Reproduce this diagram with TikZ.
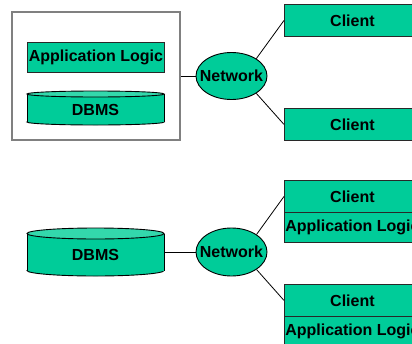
\documentclass[tikz,border=0pt]{standalone}
\usepackage{fontspec}
\setmainfont{Liberation Sans}
\usetikzlibrary{shapes.geometric}
\definecolor{tealfill}{RGB}{0,204,153}
\definecolor{tealtop}{RGB}{51,216,172}
\definecolor{framegray}{RGB}{128,128,128}
\definecolor{edgegray}{RGB}{40,40,40}
\tikzset{
  lbl/.style={font=\fontsize{16}{18}\selectfont\bfseries, text=black},
  tealbox/.style={lbl, draw=edgegray, line width=0.9pt, fill=tealfill,
    minimum width=136pt, minimum height=32pt, inner sep=0pt, anchor=north west},
  netnode/.style={ellipse, draw=black, line width=0.9pt, fill=tealfill,
    minimum width=71pt, minimum height=47pt, inner sep=0pt},
  wire/.style={draw=black, line width=0.8pt},
  dbbody/.style={lbl, inner sep=0pt},
}
% Cylinder: #1 left x, #2 right x, #3 top centre y, #4 bottom centre y, #5 y radius
\newcommand{\dbcylinder}[5]{%
  \pgfmathsetmacro{\cx}{(#1+#2)/2}%
  \pgfmathsetmacro{\rx}{(#2-#1)/2}%
  \fill[tealfill, draw=black, line width=0.9pt] (\cx,#4) ellipse [x radius=\rx, y radius=#5];
  \fill[tealfill] (#1,#3) rectangle (#2,#4);
  \draw[black, line width=0.9pt] (#1,#3) -- (#1,#4) (#2,#3) -- (#2,#4);
  \fill[tealtop, draw=black, line width=0.9pt] (\cx,#3) ellipse [x radius=\rx, y radius=#5];
}
\begin{document}
\begin{tikzpicture}[x=1pt, y=-1pt]
\useasboundingbox (0,0) rectangle (412,343);
\begin{scope}
\clip (0,0) rectangle (412,343);

% ---------- upper configuration: server holds logic and DBMS ----------
\node[draw=framegray, line width=1.6pt, minimum width=168pt, minimum height=128pt,
      inner sep=0pt] (server) at (96,76) {};
\node[tealbox, minimum width=137pt, minimum height=30pt] (app1) at (27,42) {Application Logic};
\dbcylinder{27}{164}{94}{122}{3}
\node[dbbody] (db1) at (95.5,110) {DBMS};

\node[netnode] (net1) at (231.5,76) {};
\node[lbl] at (net1) {Network};
\node[tealbox] (c1) at (284,4) {Client};
\node[tealbox] (c2) at (284,108) {Client};

\draw[wire] (server.east) -- (net1.west);
\draw[wire] (net1.35) -- (c1.west);
\draw[wire] (net1.-35) -- (c2.west);

% ---------- lower configuration: clients hold the logic ----------
\dbcylinder{27}{164}{233.5}{270.5}{5.5}
\node[dbbody, minimum width=137pt, minimum height=37pt] (db2) at (95.5,252) {};
\node[lbl] at (95.5,255) {DBMS};

\node[netnode, minimum height=48pt] (net2) at (231.5,252) {};
\node[lbl] at (net2) {Network};
\node[tealbox] (c3) at (284,180) {Client};
\node[tealbox, minimum height=30pt] (a3) at (284,212) {Application Logic};
\node[tealbox] (c4) at (284,284) {Client};
\node[tealbox, minimum height=30pt] (a4) at (284,316) {Application Logic};

\draw[wire] (db2.east) -- (net2.west);
\draw[wire] (net2.35) -- (c3.west);
\draw[wire] (net2.-35) -- (c4.west);
\end{scope}
\end{tikzpicture}
\end{document}
